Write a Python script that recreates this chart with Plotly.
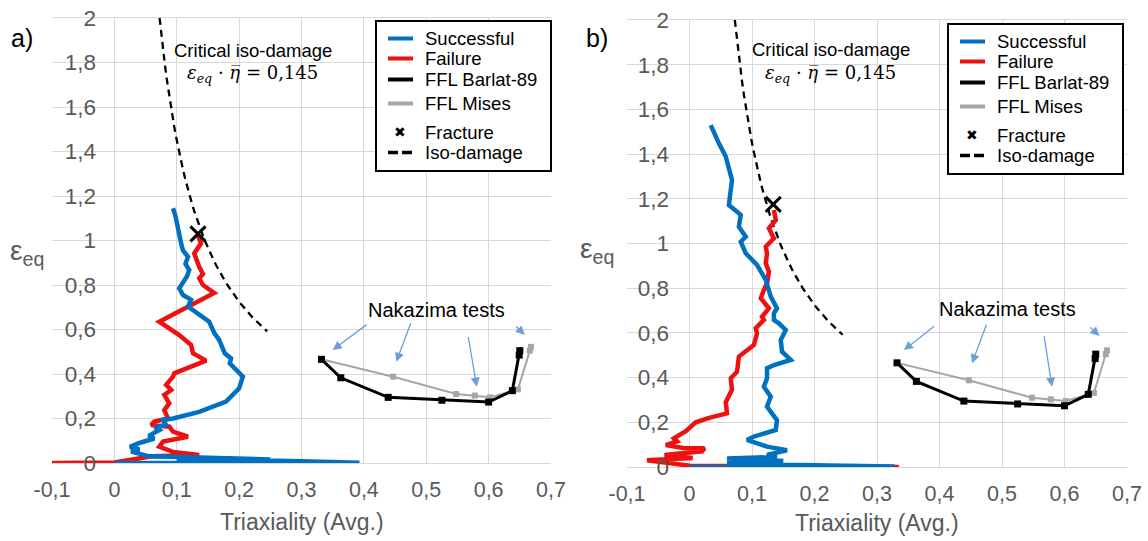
import numpy as np
import plotly.graph_objects as go

W, H = 1148, 541

# ---------------- data ----------------
# a) strain paths (triaxiality, equivalent strain)
a_succ_eta = [0.0, 0.393, 0.30, 0.20, 0.10, 0.25, 0.12, 0.056, 0.027, 0.040, 0.025, 0.040,
              0.064, 0.055, 0.072, 0.065, 0.083, 0.078, 0.094, 0.136, 0.179, 0.200, 0.206,
              0.198, 0.185, 0.187, 0.177, 0.168, 0.160, 0.152, 0.136, 0.118, 0.123, 0.110,
              0.104, 0.110, 0.116, 0.120, 0.114, 0.118, 0.110, 0.107, 0.104, 0.102, 0.098, 0.094]
a_succ_eps = [0.0, 0.001, 0.008, 0.014, 0.020, 0.016, 0.026, 0.030, 0.051, 0.062, 0.073, 0.090,
              0.110, 0.122, 0.148, 0.160, 0.171, 0.193, 0.200, 0.230, 0.276, 0.336, 0.388,
              0.410, 0.448, 0.470, 0.493, 0.553, 0.585, 0.635, 0.665, 0.703, 0.733, 0.755,
              0.785, 0.810, 0.837, 0.867, 0.895, 0.927, 0.955, 0.987, 1.030, 1.077, 1.110, 1.145]

a_fail_eta = [0.0, -0.100, 0.0, 0.060, 0.136, 0.094, 0.072, 0.078, 0.118, 0.094, 0.088, 0.059,
              0.064, 0.086, 0.080, 0.088, 0.080, 0.091, 0.083, 0.094, 0.096, 0.147, 0.126,
              0.123, 0.110, 0.104, 0.072, 0.115, 0.160, 0.142, 0.136, 0.142, 0.136, 0.128,
              0.139, 0.133]
a_fail_eps = [0.0, 0.0, 0.002, 0.030, 0.036, 0.050, 0.073, 0.096, 0.118, 0.141, 0.163, 0.171,
              0.186, 0.200, 0.238, 0.268, 0.306, 0.328, 0.351, 0.388, 0.403, 0.460, 0.493,
              0.530, 0.560, 0.575, 0.635, 0.700, 0.764, 0.800, 0.830, 0.850, 0.882, 0.942,
              0.987, 1.030]

# b) strain paths
b_succ_eta = [0.0, 0.328, 0.150, 0.060, 0.150, 0.060, 0.140, 0.124, 0.156, 0.124, 0.092,
              0.103, 0.138, 0.140, 0.124, 0.130, 0.119, 0.124, 0.124, 0.135, 0.162, 0.148,
              0.146, 0.154, 0.143, 0.135, 0.135, 0.140, 0.130, 0.122, 0.108, 0.090, 0.082,
              0.090, 0.079, 0.082, 0.063, 0.068, 0.058, 0.047, 0.034]
b_succ_eps = [0.0, 0.002, 0.010, 0.020, 0.028, 0.038, 0.045, 0.054, 0.075, 0.091, 0.121,
              0.136, 0.166, 0.210, 0.270, 0.315, 0.359, 0.397, 0.442, 0.456, 0.479, 0.516,
              0.568, 0.613, 0.643, 0.658, 0.688, 0.710, 0.762, 0.837, 0.904, 0.956, 1.008,
              1.030, 1.075, 1.128, 1.172, 1.284, 1.389, 1.448, 1.530]

b_fail_eta = [0.0, 0.335, 0.0, -0.068, 0.005, -0.040, 0.020, 0.024, -0.010, -0.038, -0.020,
              -0.025, -0.006, 0.010, 0.034, 0.060, 0.058, 0.068, 0.066, 0.076, 0.079, 0.092,
              0.103, 0.108, 0.106, 0.119, 0.116, 0.127, 0.114, 0.119, 0.124, 0.127, 0.122,
              0.124, 0.122, 0.135, 0.127, 0.138, 0.135]
b_fail_eps = [0.0, 0.0, 0.006, 0.030, 0.040, 0.054, 0.070, 0.084, 0.085, 0.098, 0.115,
              0.128, 0.160, 0.200, 0.222, 0.240, 0.290, 0.345, 0.397, 0.426, 0.494, 0.523,
              0.546, 0.598, 0.621, 0.658, 0.672, 0.710, 0.755, 0.792, 0.822, 0.874, 0.911,
              0.956, 0.986, 1.023, 1.068, 1.105, 1.150]

# forming fracture limits from Nakazima tests (same in both panels)
ffl_barlat_eta = [0.332, 0.363, 0.439, 0.525, 0.600, 0.638, 0.649, 0.650]
ffl_barlat_eps = [0.466, 0.383, 0.295, 0.282, 0.274, 0.325, 0.485, 0.505]
ffl_mises_eta = [0.332, 0.447, 0.548, 0.578, 0.602, 0.647, 0.666, 0.668]
ffl_mises_eps = [0.466, 0.388, 0.310, 0.303, 0.295, 0.331, 0.505, 0.522]

# fracture points
a_fracture = (0.134, 1.030)
b_fracture = (0.134, 1.175)

# critical iso-damage: eps_eq * eta = 0.145
iso_damage = 0.145
iso_eta = np.linspace(0.0725, 0.245, 60)

# arrows (tail eta, tail eps, head eta, head eps) pointing at the Nakazima points
a_arrows = [(0.407, 0.627, 0.350, 0.508), (0.476, 0.635, 0.452, 0.455),
            (0.567, 0.573, 0.581, 0.343), (0.642, 0.620, 0.658, 0.575)]
b_arrows = [(0.394, 0.635, 0.343, 0.523), (0.476, 0.643, 0.452, 0.464),
            (0.567, 0.591, 0.580, 0.359), (0.639, 0.631, 0.656, 0.586)]

x_ticks = [-0.1, 0.0, 0.1, 0.2, 0.3, 0.4, 0.5, 0.6, 0.7]
x_tick_text = ["-0,1", "0", "0,1", "0,2", "0,3", "0,4", "0,5", "0,6", "0,7"]
y_ticks = [0.0, 0.2, 0.4, 0.6, 0.8, 1.0, 1.2, 1.4, 1.6, 1.8, 2.0]
y_tick_text = ["0", "0,2", "0,4", "0,6", "0,8", "1", "1,2", "1,4", "1,6", "1,8", "2"]

legend_items = ["Successful", "Failure", "FFL Barlat-89", "FFL Mises", "Fracture", "Iso-damage"]

# ---------------- styling ----------------
BLUE = "#0070C0"
RED = "#EE1111"
GRAY = "#A6A6A6"
GRID = "#D9D9D9"
TXT = "#595959"
FONT = "Liberation Sans, Arial, sans-serif"
PATH_W = 4.5


def px(x):
    return x / W


def py(y):
    return 1 - y / H


fig = go.Figure()

panels = [
    dict(xa="x", ya="y", succ=(a_succ_eta, a_succ_eps), fail=(a_fail_eta, a_fail_eps),
         frac=a_fracture, arrows=a_arrows),
    dict(xa="x2", ya="y2", succ=(b_succ_eta, b_succ_eps), fail=(b_fail_eta, b_fail_eps),
         frac=b_fracture, arrows=b_arrows),
]

for p in panels:
    xa, ya = p["xa"], p["ya"]
    fig.add_trace(go.Scatter(x=iso_eta, y=iso_damage / iso_eta, xaxis=xa, yaxis=ya,
                             mode="lines", line=dict(color="black", width=2.3, dash="7px,5px"),
                             showlegend=False, hoverinfo="skip"))
    fig.add_trace(go.Scatter(x=p["fail"][0], y=p["fail"][1], xaxis=xa, yaxis=ya,
                             mode="lines", line=dict(color=RED, width=PATH_W),
                             showlegend=False))
    fig.add_trace(go.Scatter(x=p["succ"][0], y=p["succ"][1], xaxis=xa, yaxis=ya,
                             mode="lines", line=dict(color=BLUE, width=PATH_W),
                             showlegend=False))
    fig.add_trace(go.Scatter(x=ffl_mises_eta, y=ffl_mises_eps, xaxis=xa, yaxis=ya,
                             mode="lines+markers", line=dict(color=GRAY, width=2),
                             marker=dict(symbol="square", size=6, color=GRAY),
                             showlegend=False))
    fig.add_trace(go.Scatter(x=ffl_barlat_eta, y=ffl_barlat_eps, xaxis=xa, yaxis=ya,
                             mode="lines+markers", line=dict(color="black", width=3),
                             marker=dict(symbol="square", size=7, color="black"),
                             showlegend=False))
    fig.add_trace(go.Scatter(x=[p["frac"][0]], y=[p["frac"][1]], xaxis=xa, yaxis=ya,
                             mode="markers",
                             marker=dict(symbol="x-thin", size=15, color="black",
                                         line=dict(width=3, color="black")),
                             showlegend=False))

annotations = []
shapes = []

# axes
axis_common = dict(showgrid=True, gridcolor=GRID, gridwidth=1, zeroline=False,
                   automargin=False, ticks="")
x_font = dict(family=FONT, size=21.5, color=TXT)
y_font = dict(family=FONT, size=22.5, color=TXT)
fig.update_layout(
    xaxis=dict(domain=[px(52), px(551)], range=[-0.1, 0.7], tickvals=x_ticks,
               ticktext=x_tick_text, anchor="y", showline=True, linecolor=GRID,
               mirror=True, ticklabelstandoff=7, tickfont=x_font, **axis_common),
    yaxis=dict(domain=[py(463), py(18)], range=[0, 2], tickvals=y_ticks,
               ticktext=y_tick_text, anchor="free", position=px(96),
               showline=False, tickfont=y_font, **axis_common),
    xaxis2=dict(domain=[px(627), px(1127)], range=[-0.1, 0.7], tickvals=x_ticks,
                ticktext=x_tick_text, anchor="y2", showline=True, linecolor=GRID,
                mirror=True, ticklabelstandoff=7, tickfont=x_font, **axis_common),
    yaxis2=dict(domain=[py(467), py(20)], range=[0, 2], tickvals=y_ticks,
                ticktext=y_tick_text, anchor="free", position=px(669),
                showline=False, tickfont=y_font, **axis_common),
)

panel_text = [
    dict(label="a)", lab_xy=(22, 38), eps_xy=(27, 252), title_xy=(302, 522),
         xa="x", ya="y", crit=(0.2215, 1.856), form=(0.2215, 1.75), naka=(0.517, 0.688),
         box=(376, 21)),
    dict(label="b)", lab_xy=(597, 38), eps_xy=(597, 250), title_xy=(877, 523),
         xa="x2", ya="y2", crit=(0.2256, 1.866), form=(0.2256, 1.76), naka=(0.509, 0.707),
         box=(948, 24)),
]

for i, t in enumerate(panel_text):
    annotations.append(dict(text=t["label"], x=px(t["lab_xy"][0]), y=py(t["lab_xy"][1]),
                            xref="paper", yref="paper", showarrow=False,
                            xanchor="center", yanchor="middle",
                            font=dict(family=FONT, size=25, color="black")))
    annotations.append(dict(text="ε<sub>eq</sub>", x=px(t["eps_xy"][0]), y=py(t["eps_xy"][1]),
                            xref="paper", yref="paper", showarrow=False,
                            xanchor="center", yanchor="middle",
                            font=dict(family=FONT, size=28, color=TXT)))
    annotations.append(dict(text="Triaxiality (Avg.)", x=px(t["title_xy"][0]),
                            y=py(t["title_xy"][1]), xref="paper", yref="paper",
                            xanchor="center", yanchor="middle",
                            showarrow=False, font=dict(family=FONT, size=23, color=TXT)))
    annotations.append(dict(text="Critical iso-damage", x=t["crit"][0], y=t["crit"][1],
                            xref=t["xa"], yref=t["ya"], showarrow=False,
                            xanchor="center", yanchor="middle",
                            font=dict(family=FONT, size=18.5, color="black")))
    annotations.append(dict(text="<i>ε<sub>eq</sub></i> · <i>η̅</i> = 0,145",
                            x=t["form"][0], y=t["form"][1], xref=t["xa"], yref=t["ya"],
                            showarrow=False, xanchor="center", yanchor="middle",
                            font=dict(family="DejaVu Serif, serif", size=18, color="black")))
    annotations.append(dict(text="Nakazima tests", x=t["naka"][0], y=t["naka"][1],
                            xref=t["xa"], yref=t["ya"], showarrow=False,
                            xanchor="center", yanchor="middle",
                            font=dict(family=FONT, size=20, color="black")))
    for (tx, ty, hx, hy) in panels[i]["arrows"]:
        annotations.append(dict(x=hx, y=hy, ax=tx, ay=ty, xref=t["xa"], yref=t["ya"],
                                axref=t["xa"], ayref=t["ya"], text="", showarrow=True,
                                arrowhead=2, arrowsize=1.4, arrowwidth=1.3,
                                arrowcolor="#6A9FD8"))

    # legend box
    bx, by = t["box"]
    shapes.append(dict(type="rect", xref="paper", yref="paper",
                       x0=px(bx), x1=px(bx + 175), y0=py(by), y1=py(by + 150),
                       line=dict(color="black", width=2), fillcolor="white", layer="above"))
    offsets = [17.5, 37.5, 58.5, 82.5, 111, 131.5]
    styles = [dict(color=BLUE, width=4), dict(color=RED, width=4),
              dict(color="black", width=4), dict(color=GRAY, width=4), None,
              dict(color="black", width=3.5, dash="10px,4px")]
    for name, off, st in zip(legend_items, offsets, styles):
        yy = py(by + off)
        if st is None:
            annotations.append(dict(text="✖", x=px(bx + 24), y=yy, xref="paper",
                                    yref="paper", showarrow=False,
                                    xanchor="center", yanchor="middle",
                                    font=dict(family="DejaVu Sans", size=14, color="black")))
        else:
            shapes.append(dict(type="line", xref="paper", yref="paper",
                               x0=px(bx + 12), x1=px(bx + 37), y0=yy, y1=yy,
                               line=st, layer="above"))
        annotations.append(dict(text=name, x=px(bx + 47), y=yy, xref="paper", yref="paper",
                                xanchor="left", yanchor="middle", showarrow=False,
                                font=dict(family=FONT, size=18.5, color="black")))

fig.update_layout(
    template="none",
    width=W, height=H, margin=dict(l=0, r=0, t=0, b=0, autoexpand=False),
    paper_bgcolor="white", plot_bgcolor="white",
    showlegend=False, annotations=annotations, shapes=shapes,
    font=dict(family=FONT),
)

fig.write_html("out.html")
